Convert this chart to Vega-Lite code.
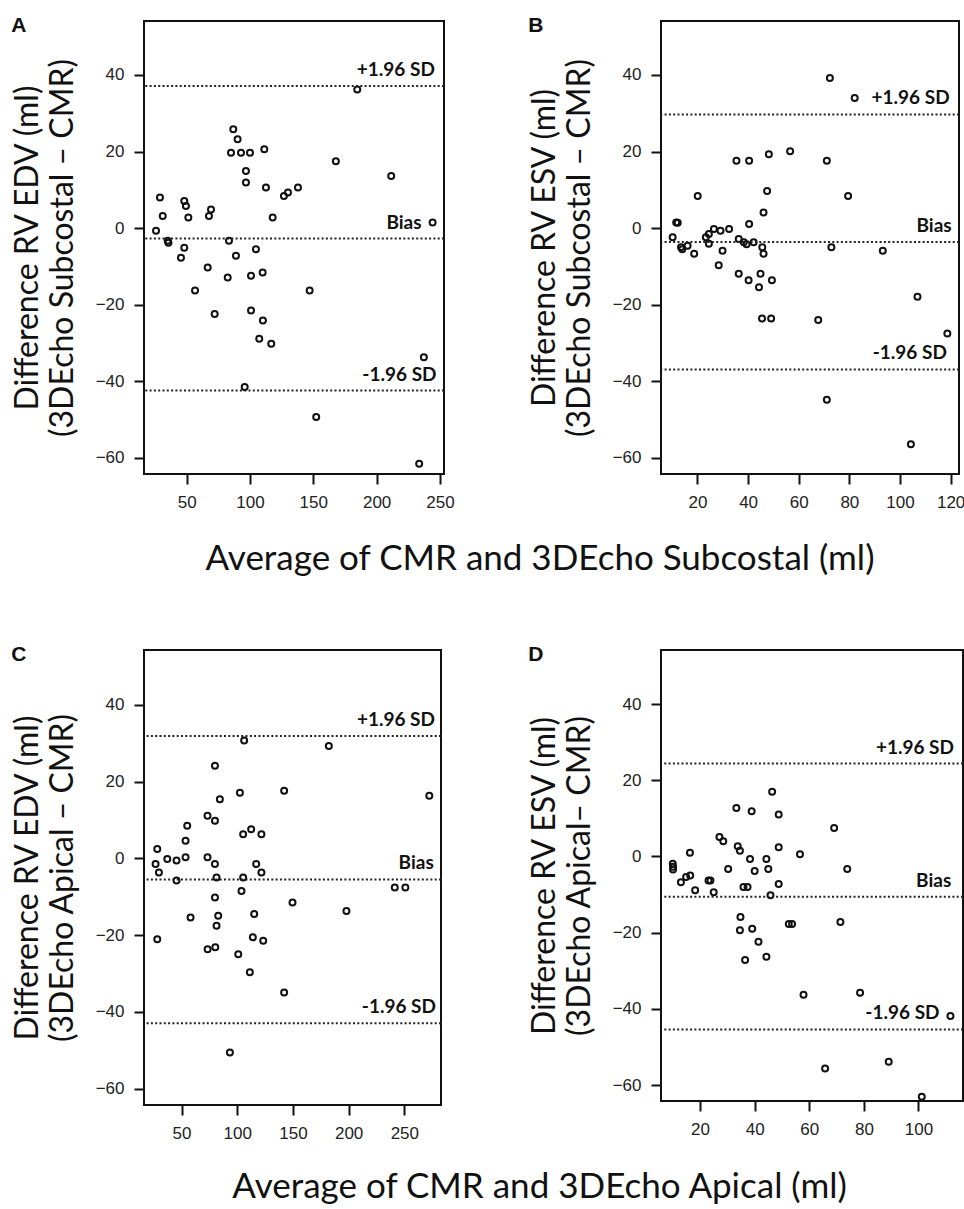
{
  "$schema": "https://vega.github.io/schema/vega-lite/v6.json",
  "background": "white",
  "padding": {"left": 10, "top": 14, "right": 0, "bottom": 0},
  "datasets": {
    "pts": [
      {"panel":"A","avg":184.7,"diff":36.2},{"panel":"A","avg":86.8,"diff":25.8},{"panel":"A","avg":90.2,"diff":23.2},{"panel":"A","avg":85,"diff":19.7},{"panel":"A","avg":92.9,"diff":19.7},{"panel":"A","avg":100,"diff":19.7},{"panel":"A","avg":111.3,"diff":20.6},{"panel":"A","avg":96.8,"diff":14.9},{"panel":"A","avg":96.8,"diff":11.9},{"panel":"A","avg":112.6,"diff":10.6},{"panel":"A","avg":167.8,"diff":17.5},{"panel":"A","avg":211.5,"diff":13.6},{"panel":"A","avg":126.8,"diff":8.4},{"panel":"A","avg":130,"diff":9.3},{"panel":"A","avg":137.9,"diff":10.6},{"panel":"A","avg":28.9,"diff":8.0},{"panel":"A","avg":31.1,"diff":3.2},{"panel":"A","avg":25.8,"diff":-0.7},{"panel":"A","avg":35,"diff":-3.3},{"panel":"A","avg":35.6,"diff":-3.8},{"panel":"A","avg":48.1,"diff":7.1},{"panel":"A","avg":49.4,"diff":5.8},{"panel":"A","avg":51.3,"diff":2.8},{"panel":"A","avg":69.2,"diff":4.9},{"panel":"A","avg":67.6,"diff":3.2},{"panel":"A","avg":117.9,"diff":2.8},{"panel":"A","avg":244.2,"diff":1.5},{"panel":"A","avg":48.1,"diff":-5.1},{"panel":"A","avg":45.5,"diff":-7.7},{"panel":"A","avg":83.4,"diff":-3.3},{"panel":"A","avg":88.9,"diff":-7.2},{"panel":"A","avg":104.7,"diff":-5.5},{"panel":"A","avg":66.6,"diff":-10.3},{"panel":"A","avg":82.4,"diff":-12.9},{"panel":"A","avg":100.8,"diff":-12.4},{"panel":"A","avg":110,"diff":-11.6},{"panel":"A","avg":56.6,"diff":-16.3},{"panel":"A","avg":147.1,"diff":-16.3},{"panel":"A","avg":72.1,"diff":-22.4},{"panel":"A","avg":100.8,"diff":-21.5},{"panel":"A","avg":110.2,"diff":-24.1},{"panel":"A","avg":107.3,"diff":-28.9},{"panel":"A","avg":116.8,"diff":-30.2},{"panel":"A","avg":237.3,"diff":-33.7},{"panel":"A","avg":95.8,"diff":-41.5},{"panel":"A","avg":152.3,"diff":-49.3},{"panel":"A","avg":233.6,"diff":-61.5},
      {"panel":"B","avg":72.3,"diff":39.2},{"panel":"B","avg":82.1,"diff":34.0},{"panel":"B","avg":56.6,"diff":20.1},{"panel":"B","avg":35.4,"diff":17.6},{"panel":"B","avg":40.4,"diff":17.6},{"panel":"B","avg":48.2,"diff":19.3},{"panel":"B","avg":71.1,"diff":17.6},{"panel":"B","avg":47.5,"diff":9.7},{"panel":"B","avg":20.1,"diff":8.4},{"panel":"B","avg":79.5,"diff":8.4},{"panel":"B","avg":46.1,"diff":4.1},{"panel":"B","avg":11.6,"diff":1.5},{"panel":"B","avg":12.2,"diff":1.4},{"panel":"B","avg":40.4,"diff":1.1},{"panel":"B","avg":10.2,"diff":-2.4},{"panel":"B","avg":13.5,"diff":-5.0},{"panel":"B","avg":14.0,"diff":-5.5},{"panel":"B","avg":16.1,"diff":-4.6},{"panel":"B","avg":18.7,"diff":-6.7},{"panel":"B","avg":23.3,"diff":-2.4},{"panel":"B","avg":24.5,"diff":-1.5},{"panel":"B","avg":24.5,"diff":-4.1},{"panel":"B","avg":26.5,"diff":-0.2},{"panel":"B","avg":29.1,"diff":-0.7},{"panel":"B","avg":32.5,"diff":-0.2},{"panel":"B","avg":29.9,"diff":-5.9},{"panel":"B","avg":28.4,"diff":-9.7},{"panel":"B","avg":36.3,"diff":-2.8},{"panel":"B","avg":38.3,"diff":-3.7},{"panel":"B","avg":39.4,"diff":-4.2},{"panel":"B","avg":42.2,"diff":-3.7},{"panel":"B","avg":45.6,"diff":-5.0},{"panel":"B","avg":46.1,"diff":-6.7},{"panel":"B","avg":72.9,"diff":-5.0},{"panel":"B","avg":93.2,"diff":-5.9},{"panel":"B","avg":36.3,"diff":-11.9},{"panel":"B","avg":40.2,"diff":-13.6},{"panel":"B","avg":44.9,"diff":-11.9},{"panel":"B","avg":44.3,"diff":-15.4},{"panel":"B","avg":49.4,"diff":-13.6},{"panel":"B","avg":45.5,"diff":-23.6},{"panel":"B","avg":49.1,"diff":-23.6},{"panel":"B","avg":67.7,"diff":-24.0},{"panel":"B","avg":106.9,"diff":-17.9},{"panel":"B","avg":118.7,"diff":-27.5},{"panel":"B","avg":71.1,"diff":-44.8},{"panel":"B","avg":104.3,"diff":-56.4},
      {"panel":"C","avg":106.2,"diff":30.7},{"panel":"C","avg":182.2,"diff":29.3},{"panel":"C","avg":80,"diff":24.1},{"panel":"C","avg":102.4,"diff":17.1},{"panel":"C","avg":142.1,"diff":17.6},{"panel":"C","avg":272.4,"diff":16.3},{"panel":"C","avg":84.4,"diff":15.4},{"panel":"C","avg":73.3,"diff":11.1},{"panel":"C","avg":80,"diff":9.8},{"panel":"C","avg":55.1,"diff":8.5},{"panel":"C","avg":53.6,"diff":4.6},{"panel":"C","avg":105.3,"diff":6.3},{"panel":"C","avg":112.5,"diff":7.6},{"panel":"C","avg":121.7,"diff":6.3},{"panel":"C","avg":28.2,"diff":2.4},{"panel":"C","avg":37.2,"diff":-0.2},{"panel":"C","avg":45.5,"diff":-0.6},{"panel":"C","avg":53.6,"diff":0.3},{"panel":"C","avg":26.7,"diff":-1.5},{"panel":"C","avg":29.7,"diff":-3.7},{"panel":"C","avg":73.3,"diff":0.3},{"panel":"C","avg":80,"diff":-1.5},{"panel":"C","avg":117,"diff":-1.5},{"panel":"C","avg":121.7,"diff":-3.7},{"panel":"C","avg":45.5,"diff":-5.8},{"panel":"C","avg":81.4,"diff":-5.0},{"panel":"C","avg":105.3,"diff":-5.0},{"panel":"C","avg":103.8,"diff":-8.5},{"panel":"C","avg":241.4,"diff":-7.6},{"panel":"C","avg":250.9,"diff":-7.6},{"panel":"C","avg":80,"diff":-10.2},{"panel":"C","avg":149.6,"diff":-11.5},{"panel":"C","avg":198,"diff":-13.7},{"panel":"C","avg":58.1,"diff":-15.4},{"panel":"C","avg":82.9,"diff":-15.0},{"panel":"C","avg":81.4,"diff":-17.6},{"panel":"C","avg":115.2,"diff":-14.5},{"panel":"C","avg":28.2,"diff":-21.1},{"panel":"C","avg":114,"diff":-20.6},{"panel":"C","avg":123.3,"diff":-21.5},{"panel":"C","avg":73.4,"diff":-23.7},{"panel":"C","avg":80.3,"diff":-23.2},{"panel":"C","avg":100.9,"diff":-25.0},{"panel":"C","avg":111.3,"diff":-29.7},{"panel":"C","avg":142.1,"diff":-35.0},{"panel":"C","avg":93.4,"diff":-50.6},
      {"panel":"D","avg":10,"diff":-1.9},{"panel":"D","avg":10.1,"diff":-2.7},{"panel":"D","avg":10.1,"diff":-3.4},{"panel":"D","avg":16.3,"diff":1.0},{"panel":"D","avg":13,"diff":-6.8},{"panel":"D","avg":14.9,"diff":-5.4},{"panel":"D","avg":16.4,"diff":-5.0},{"panel":"D","avg":18.2,"diff":-8.9},{"panel":"D","avg":23.1,"diff":-6.3},{"panel":"D","avg":23.8,"diff":-6.3},{"panel":"D","avg":25,"diff":-9.4},{"panel":"D","avg":27.1,"diff":5.1},{"panel":"D","avg":28.5,"diff":4.0},{"panel":"D","avg":30.3,"diff":-3.3},{"panel":"D","avg":33.3,"diff":12.7},{"panel":"D","avg":33.8,"diff":2.7},{"panel":"D","avg":34.6,"diff":1.5},{"panel":"D","avg":35.9,"diff":-8.0},{"panel":"D","avg":37.4,"diff":-8.0},{"panel":"D","avg":38.9,"diff":11.9},{"panel":"D","avg":38.3,"diff":-0.7},{"panel":"D","avg":40,"diff":-3.8},{"panel":"D","avg":46.4,"diff":17.0},{"panel":"D","avg":48.8,"diff":11.0},{"panel":"D","avg":48.8,"diff":2.4},{"panel":"D","avg":44.3,"diff":-0.7},{"panel":"D","avg":45,"diff":-3.3},{"panel":"D","avg":48.8,"diff":-7.2},{"panel":"D","avg":45.8,"diff":-10.2},{"panel":"D","avg":34.8,"diff":-15.9},{"panel":"D","avg":34.6,"diff":-19.4},{"panel":"D","avg":39.1,"diff":-19.0},{"panel":"D","avg":41.4,"diff":-22.4},{"panel":"D","avg":36.5,"diff":-27.2},{"panel":"D","avg":44.3,"diff":-26.3},{"panel":"D","avg":52.5,"diff":-17.7},{"panel":"D","avg":53.7,"diff":-17.7},{"panel":"D","avg":56.6,"diff":0.6},{"panel":"D","avg":69.1,"diff":7.5},{"panel":"D","avg":73.9,"diff":-3.3},{"panel":"D","avg":71.4,"diff":-17.2},{"panel":"D","avg":57.9,"diff":-36.3},{"panel":"D","avg":78.6,"diff":-35.8},{"panel":"D","avg":111.7,"diff":-41.9},{"panel":"D","avg":65.8,"diff":-55.7},{"panel":"D","avg":89.1,"diff":-53.9},{"panel":"D","avg":101.2,"diff":-63.1}
    ],
    "lines": [
      {"panel":"A","label":"+1.96 SD","value":37.1,"lx":246},{"panel":"A","label":"Bias","value":-2.7,"lx":235.5},{"panel":"A","label":"-1.96 SD","value":-42.4,"lx":247.3},
      {"panel":"B","label":"+1.96 SD","value":29.7,"lx":119.6},{"panel":"B","label":"Bias","value":-3.6,"lx":120.4},{"panel":"B","label":"-1.96 SD","value":-36.9,"lx":118.5},
      {"panel":"C","label":"+1.96 SD","value":31.9,"lx":277.5},{"panel":"C","label":"Bias","value":-5.5,"lx":276.4},{"panel":"C","label":"-1.96 SD","value":-43.0,"lx":278.4},
      {"panel":"D","label":"+1.96 SD","value":24.4,"lx":113},{"panel":"D","label":"Bias","value":-10.6,"lx":112},{"panel":"D","label":"-1.96 SD","value":-45.4,"lx":107.7}
    ]
  },
  "config": {
    "view": {"stroke": "#111", "strokeWidth": 2},
    "axis": {"grid": false, "domain": false, "tickColor": "#111", "tickWidth": 2, "tickSize": 10, "labelFont": "Liberation Sans", "labelFontSize": 17, "labelColor": "#222", "labelPadding": 10, "titleFont": "Lato", "titleFontSize": 32, "titleFontWeight": "normal", "titleColor": "#111", "titleLineHeight": 35, "titlePadding": 16},
    "title": {"font": "Liberation Sans", "fontWeight": "bold", "fontSize": 21, "color": "#111", "anchor": "start", "frame": "bounds", "offset": 0, "baseline": "alphabetic"},
    "point": {"shape": "circle", "filled": false, "size": 36, "stroke": "#111", "strokeWidth": 2, "opacity": 1},
    "rule": {"strokeDash": [2, 2.3], "strokeWidth": 2, "color": "#222"},
    "text": {"align": "right", "baseline": "alphabetic", "dy": -10, "font": "Lato", "fontWeight": "bold", "fontSize": 19, "color": "#111"}
  },
  "spacing": 66,
  "vconcat": [
    {
      "title": {"text": "Average of CMR and 3DEcho Subcostal (ml)", "orient": "bottom", "anchor": "middle", "font": "Lato", "fontWeight": "normal", "fontSize": 35, "offset": 31, "dx": 52, "baseline": "top"},
      "spacing": 71,
      "hconcat": [
        {
          "width": 300, "height": 453,
          "title": {"text": "A", "dy": 19},
          "layer": [
            {"data": {"name": "pts"}, "transform": [{"filter": "datum.panel == 'A'"}],
             "mark": {"type": "point"},
             "encoding": {
               "x": {"field": "avg", "type": "quantitative", "scale": {"domain": [16.3, 253.2], "nice": false, "zero": false}, "axis": {"values": [50, 100, 150, 200, 250], "title": null}},
               "y": {"field": "diff", "type": "quantitative", "scale": {"domain": [-64.2, 54.1], "nice": false, "zero": false}, "axis": {"values": [-60, -40, -20, 0, 20, 40], "title": ["Difference  RV EDV (ml)", "(3DEcho Subcostal – CMR)"]}}
             }},
            {"data": {"name": "lines"}, "transform": [{"filter": "datum.panel == 'A'"}],
             "mark": {"type": "rule"},
             "encoding": {"y": {"field": "value", "type": "quantitative"}}},
            {"data": {"name": "lines"}, "transform": [{"filter": "datum.panel == 'A'"}],
             "mark": {"type": "text"},
             "encoding": {"x": {"field": "lx", "type": "quantitative"}, "y": {"field": "value", "type": "quantitative"}, "text": {"field": "label"}}}
          ]
        },
        {
          "width": 298, "height": 453,
          "title": {"text": "B", "dy": 19},
          "layer": [
            {"data": {"name": "pts"}, "transform": [{"filter": "datum.panel == 'B'"}],
             "mark": {"type": "point"},
             "encoding": {
               "x": {"field": "avg", "type": "quantitative", "scale": {"domain": [5.6, 123.3], "nice": false, "zero": false}, "axis": {"values": [20, 40, 60, 80, 100, 120], "title": null}},
               "y": {"field": "diff", "type": "quantitative", "scale": {"domain": [-64.2, 54.1], "nice": false, "zero": false}, "axis": {"values": [-60, -40, -20, 0, 20, 40], "title": ["Difference  RV ESV (ml)", "(3DEcho Subcostal – CMR)"]}}
             }},
            {"data": {"name": "lines"}, "transform": [{"filter": "datum.panel == 'B'"}],
             "mark": {"type": "rule"},
             "encoding": {"y": {"field": "value", "type": "quantitative"}}},
            {"data": {"name": "lines"}, "transform": [{"filter": "datum.panel == 'B'"}],
             "mark": {"type": "text"},
             "encoding": {"x": {"field": "lx", "type": "quantitative"}, "y": {"field": "value", "type": "quantitative"}, "text": {"field": "label"}}}
          ]
        }
      ]
    },
    {
      "title": {"text": "Average of CMR and 3DEcho Apical (ml)", "orient": "bottom", "anchor": "middle", "font": "Lato", "fontWeight": "normal", "fontSize": 35, "offset": 28, "dx": 52, "baseline": "top"},
      "spacing": 84,
      "hconcat": [
        {
          "width": 297, "height": 455,
          "title": {"text": "C", "dy": 19},
          "layer": [
            {"data": {"name": "pts"}, "transform": [{"filter": "datum.panel == 'C'"}],
             "mark": {"type": "point"},
             "encoding": {
               "x": {"field": "avg", "type": "quantitative", "scale": {"domain": [16.3, 282.9], "nice": false, "zero": false}, "axis": {"values": [50, 100, 150, 200, 250], "title": null}},
               "y": {"field": "diff", "type": "quantitative", "scale": {"domain": [-64.3, 54.3], "nice": false, "zero": false}, "axis": {"values": [-60, -40, -20, 0, 20, 40], "title": ["Difference  RV EDV (ml)", "(3DEcho Apical – CMR)"]}}
             }},
            {"data": {"name": "lines"}, "transform": [{"filter": "datum.panel == 'C'"}],
             "mark": {"type": "rule"},
             "encoding": {"y": {"field": "value", "type": "quantitative"}}},
            {"data": {"name": "lines"}, "transform": [{"filter": "datum.panel == 'C'"}],
             "mark": {"type": "text"},
             "encoding": {"x": {"field": "lx", "type": "quantitative"}, "y": {"field": "value", "type": "quantitative"}, "text": {"field": "label"}}}
          ]
        },
        {
          "width": 302, "height": 451,
          "title": {"text": "D", "dy": 19},
          "layer": [
            {"data": {"name": "pts"}, "transform": [{"filter": "datum.panel == 'D'"}],
             "mark": {"type": "point"},
             "encoding": {
               "x": {"field": "avg", "type": "quantitative", "scale": {"domain": [5.7, 116.3], "nice": false, "zero": false}, "axis": {"values": [20, 40, 60, 80, 100], "title": null}},
               "y": {"field": "diff", "type": "quantitative", "scale": {"domain": [-64.2, 54.2], "nice": false, "zero": false}, "axis": {"values": [-60, -40, -20, 0, 20, 40], "title": ["Difference  RV ESV (ml)", "(3DEcho Apical– CMR)"]}}
             }},
            {"data": {"name": "lines"}, "transform": [{"filter": "datum.panel == 'D'"}],
             "mark": {"type": "rule"},
             "encoding": {"y": {"field": "value", "type": "quantitative"}}},
            {"data": {"name": "lines"}, "transform": [{"filter": "datum.panel == 'D'"}],
             "mark": {"type": "text"},
             "encoding": {"x": {"field": "lx", "type": "quantitative"}, "y": {"field": "value", "type": "quantitative"}, "text": {"field": "label"}}}
          ]
        }
      ]
    }
  ]
}
